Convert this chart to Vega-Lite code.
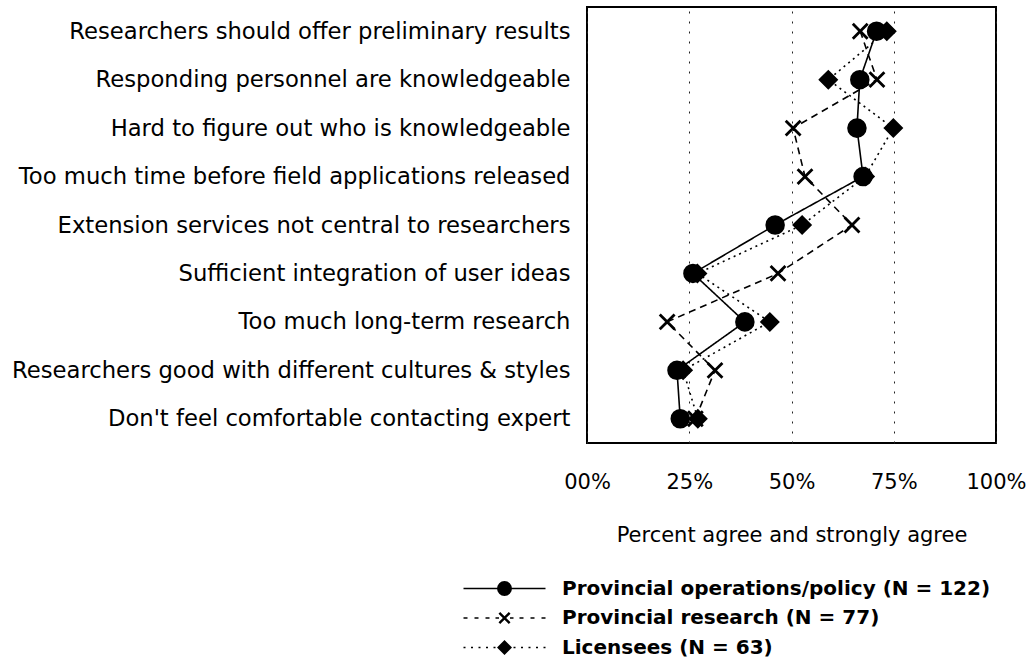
{
  "$schema": "https://vega.github.io/schema/vega-lite/v6.json",
  "width": 409,
  "height": 436,
  "autosize": "none",
  "padding": {"left": 587, "top": 7, "right": 35, "bottom": 220},
  "background": "white",
  "config": {
    "view": {"stroke": "black", "strokeWidth": 2},
    "font": "DejaVu Sans"
  },
  "data": {
    "values": [
      {"item": "Researchers should offer preliminary results", "series": "Provincial research (N = 77)", "pct": 66.8, "rank": 1},
      {"item": "Responding personnel are knowledgeable", "series": "Provincial research (N = 77)", "pct": 70.9, "rank": 2},
      {"item": "Hard to figure out who is knowledgeable", "series": "Provincial research (N = 77)", "pct": 50.4, "rank": 3},
      {"item": "Too much time before field applications released", "series": "Provincial research (N = 77)", "pct": 53.3, "rank": 4},
      {"item": "Extension services not central to researchers", "series": "Provincial research (N = 77)", "pct": 64.8, "rank": 5},
      {"item": "Sufficient integration of user ideas", "series": "Provincial research (N = 77)", "pct": 46.7, "rank": 6},
      {"item": "Too much long-term research", "series": "Provincial research (N = 77)", "pct": 19.6, "rank": 7},
      {"item": "Researchers good with different cultures & styles", "series": "Provincial research (N = 77)", "pct": 31.3, "rank": 8},
      {"item": "Don't feel comfortable contacting expert", "series": "Provincial research (N = 77)", "pct": 26.5, "rank": 9},
      {"item": "Researchers should offer preliminary results", "series": "Licensees (N = 63)", "pct": 73.3, "rank": 1},
      {"item": "Responding personnel are knowledgeable", "series": "Licensees (N = 63)", "pct": 59.0, "rank": 2},
      {"item": "Hard to figure out who is knowledgeable", "series": "Licensees (N = 63)", "pct": 74.9, "rank": 3},
      {"item": "Too much time before field applications released", "series": "Licensees (N = 63)", "pct": 68.0, "rank": 4},
      {"item": "Extension services not central to researchers", "series": "Licensees (N = 63)", "pct": 52.6, "rank": 5},
      {"item": "Sufficient integration of user ideas", "series": "Licensees (N = 63)", "pct": 27.0, "rank": 6},
      {"item": "Too much long-term research", "series": "Licensees (N = 63)", "pct": 44.7, "rank": 7},
      {"item": "Researchers good with different cultures & styles", "series": "Licensees (N = 63)", "pct": 23.5, "rank": 8},
      {"item": "Don't feel comfortable contacting expert", "series": "Licensees (N = 63)", "pct": 27.1, "rank": 9},
      {"item": "Researchers should offer preliminary results", "series": "Provincial operations/policy (N = 122)", "pct": 70.8, "rank": 1},
      {"item": "Responding personnel are knowledgeable", "series": "Provincial operations/policy (N = 122)", "pct": 66.7, "rank": 2},
      {"item": "Hard to figure out who is knowledgeable", "series": "Provincial operations/policy (N = 122)", "pct": 66.0, "rank": 3},
      {"item": "Too much time before field applications released", "series": "Provincial operations/policy (N = 122)", "pct": 67.5, "rank": 4},
      {"item": "Extension services not central to researchers", "series": "Provincial operations/policy (N = 122)", "pct": 46.0, "rank": 5},
      {"item": "Sufficient integration of user ideas", "series": "Provincial operations/policy (N = 122)", "pct": 25.9, "rank": 6},
      {"item": "Too much long-term research", "series": "Provincial operations/policy (N = 122)", "pct": 38.6, "rank": 7},
      {"item": "Researchers good with different cultures & styles", "series": "Provincial operations/policy (N = 122)", "pct": 22.0, "rank": 8},
      {"item": "Don't feel comfortable contacting expert", "series": "Provincial operations/policy (N = 122)", "pct": 22.8, "rank": 9}
    ]
  },
  "encoding": {
    "y": {
      "field": "item",
      "type": "nominal",
      "sort": [
        "Researchers should offer preliminary results",
        "Responding personnel are knowledgeable",
        "Hard to figure out who is knowledgeable",
        "Too much time before field applications released",
        "Extension services not central to researchers",
        "Sufficient integration of user ideas",
        "Too much long-term research",
        "Researchers good with different cultures & styles",
        "Don't feel comfortable contacting expert"
      ],
      "scale": {"type": "point", "padding": 0.5},
      "axis": {
        "title": null,
        "domain": false,
        "ticks": false,
        "grid": false,
        "labelPadding": 17,
        "labelFont": "DejaVu Sans",
        "labelFontSize": 22.7,
        "labelColor": "black",
        "labelLimit": 1000
      }
    },
    "x": {
      "field": "pct",
      "type": "quantitative",
      "scale": {"domain": [0, 100], "nice": false, "zero": true},
      "axis": {
        "title": "Percent agree and strongly agree",
        "values": [0, 25, 50, 75, 100],
        "labelExpr": "datum.value == 0 ? '00%' : datum.value + '%'",
        "domain": false,
        "ticks": false,
        "tickSize": 0,
        "grid": true,
        "gridDash": [2, 8],
        "gridColor": "#222",
        "gridWidth": 1,
        "labelFlush": false,
        "labelOverlap": false,
        "labelPadding": 28,
        "labelFont": "DejaVu Sans",
        "labelFontSize": 21,
        "labelColor": "black",
        "titleFont": "DejaVu Sans",
        "titleFontSize": 21,
        "titleFontWeight": "normal",
        "titleColor": "black",
        "titlePadding": 32
      }
    }
  },
  "resolve": {"scale": {"strokeDash": "independent"}, "legend": {"strokeDash": "independent"}},
  "layer": [
    {
      "mark": {"type": "point", "filled": true, "fill": "black", "stroke": "black", "strokeWidth": 0.5, "opacity": 0},
      "encoding": {
        "shape": {
          "field": "series",
          "type": "nominal",
          "scale": {
            "domain": ["Provincial operations/policy (N = 122)", "Provincial research (N = 77)", "Licensees (N = 63)"],
            "range": [
              "M-4.1,-0.07L4.1,-0.07L4.1,0.07L-4.1,0.07ZM0.75,0L0.693,0.287L0.53,0.53L0.287,0.693L0,0.75L-0.287,0.693L-0.53,0.53L-0.693,0.287L-0.75,0L-0.693,-0.287L-0.53,-0.53L-0.287,-0.693L0,-0.75L0.287,-0.693L0.53,-0.53L0.693,-0.287Z",
              "M-4.1,-0.07L-3.7,-0.07L-3.7,0.07L-4.1,0.07ZM-3,-0.07L-2.6,-0.07L-2.6,0.07L-3,0.07ZM-1.9,-0.07L-1.5,-0.07L-1.5,0.07L-1.9,0.07ZM-0.9,-0.07L-0.55,-0.07L-0.55,0.07L-0.9,0.07ZM0.55,-0.07L0.9,-0.07L0.9,0.07L0.55,0.07ZM1.5,-0.07L1.9,-0.07L1.9,0.07L1.5,0.07ZM2.6,-0.07L3,-0.07L3,0.07L2.6,0.07ZM3.7,-0.07L4.1,-0.07L4.1,0.07L3.7,0.07ZM-0.6,-0.43L-0.43,-0.6L0,-0.17L0.43,-0.6L0.6,-0.43L0.17,0L0.6,0.43L0.43,0.6L0,0.17L-0.43,0.6L-0.6,0.43L-0.17,0Z",
              "M-4.1,-0.08L-3.9,-0.08L-3.9,0.08L-4.1,0.08ZM-3.35,-0.08L-3.15,-0.08L-3.15,0.08L-3.35,0.08ZM-2.6,-0.08L-2.4,-0.08L-2.4,0.08L-2.6,0.08ZM-1.85,-0.08L-1.65,-0.08L-1.65,0.08L-1.85,0.08ZM-1.1,-0.08L-0.9,-0.08L-0.9,0.08L-1.1,0.08ZM0.9,-0.08L1.1,-0.08L1.1,0.08L0.9,0.08ZM1.65,-0.08L1.85,-0.08L1.85,0.08L1.65,0.08ZM2.4,-0.08L2.6,-0.08L2.6,0.08L2.4,0.08ZM3.15,-0.08L3.35,-0.08L3.35,0.08L3.15,0.08ZM3.9,-0.08L4.1,-0.08L4.1,0.08L3.9,0.08ZM0,-0.75L0.75,0L0,0.75L-0.75,0Z"
            ]
          },
          "legend": {
            "title": null,
            "orient": "none",
            "legendX": -93,
            "legendY": 571,
            "direction": "vertical",
            "padding": 0,
            "symbolSize": 400,
            "symbolOpacity": 1,
            "symbolStrokeWidth": 0.5,
            "symbolFillColor": "black",
            "symbolStrokeColor": "black",
            "labelFont": "DejaVu Sans",
            "labelFontWeight": "bold",
            "labelFontSize": 20,
            "labelColor": "black",
            "labelOffset": 47,
            "labelLimit": 1000,
            "rowPadding": 8.5,
            "encode": {
              "symbols": {
                "stroke": {"value": "black"},
                "fill": {"value": "black"},
                "strokeWidth": {"value": 0.5},
                "opacity": {"value": 1}
              }
            }
          }
        }
      }
    },
    {
      "mark": {"type": "line", "color": "black", "strokeWidth": 1.6},
      "encoding": {
        "order": {"field": "rank", "type": "quantitative"},
        "strokeDash": {
          "field": "series",
          "type": "nominal",
          "scale": {
            "domain": ["Provincial operations/policy (N = 122)", "Provincial research (N = 77)", "Licensees (N = 63)"],
            "range": [[1, 0], [7, 5], [2, 4]]
          },
          "legend": null
        }
      }
    },
    {
      "transform": [{"filter": "datum.series == 'Provincial research (N = 77)'"}],
      "mark": {"type": "point", "shape": "M-1,-1L1,1M-1,1L1,-1", "size": 220, "filled": false, "stroke": "black", "strokeWidth": 2.8, "opacity": 1}
    },
    {
      "transform": [{"filter": "datum.series == 'Licensees (N = 63)'"}],
      "mark": {"type": "point", "shape": "diamond", "size": 272, "filled": true, "fill": "black", "stroke": "black", "strokeWidth": 2.5, "opacity": 1}
    },
    {
      "transform": [{"filter": "datum.series == 'Provincial operations/policy (N = 122)'"}],
      "mark": {"type": "point", "shape": "circle", "size": 290, "filled": true, "fill": "black", "stroke": "black", "strokeWidth": 2.5, "opacity": 1}
    }
  ]
}
